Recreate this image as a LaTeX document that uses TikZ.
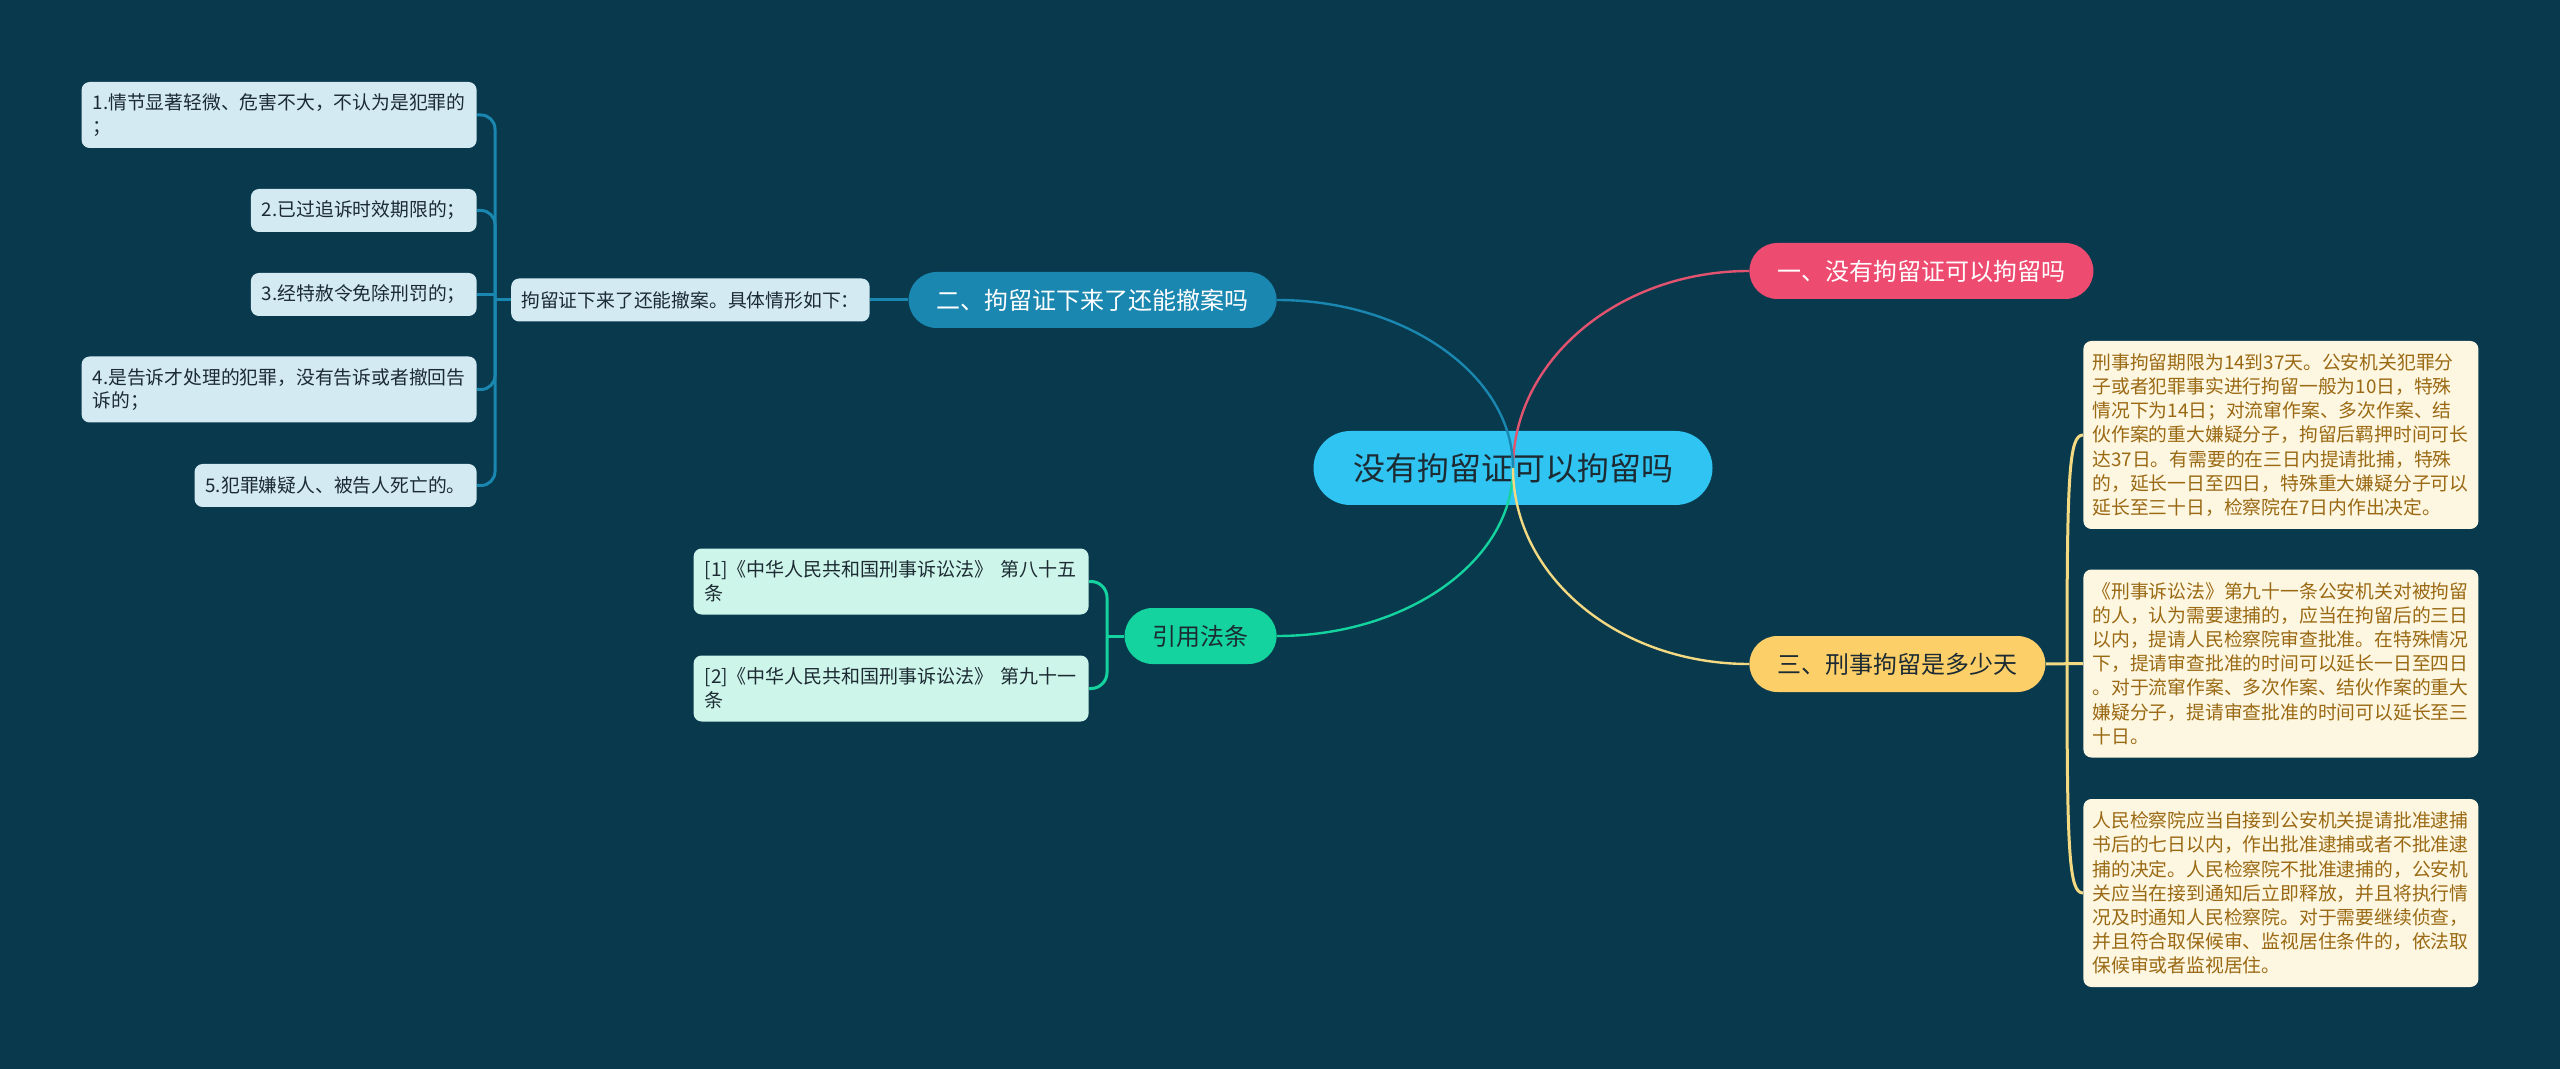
\documentclass[tikz,border=0pt]{standalone}
\usepackage{fontspec}
\setmainfont{Noto Sans CJK SC}
\usepackage{tikz}
\definecolor{bgteal}{HTML}{08394D}
\definecolor{rootcyan}{HTML}{2FC4F2}
\definecolor{rosered}{HTML}{EE4B70}
\definecolor{roseline}{HTML}{E2536F}
\definecolor{seablue}{HTML}{1A87B0}
\definecolor{mintgreen}{HTML}{14D39F}
\definecolor{sunyellow}{HTML}{FDCF69}
\definecolor{lineyellow}{HTML}{F2D982}
\definecolor{paleblue}{HTML}{D3EAF3}
\definecolor{palemint}{HTML}{CEF5EA}
\definecolor{cream}{HTML}{FDF6E0}
\definecolor{ochre}{HTML}{9A6913}
\definecolor{inkdark}{HTML}{1C2B33}

\begin{document}
\begin{tikzpicture}[x=0.5pt,y=-0.5pt,
    topic/.style={rounded corners=14pt,minimum height=28pt,inner xsep=14pt,inner ysep=0pt,
        font=\fontsize{12pt}{14pt}\selectfont},
    leafbox/.style={fill=paleblue,text=inkdark,rounded corners=4pt,inner xsep=5.5pt,inner ysep=0pt,
        minimum height=21.5pt,font=\fontsize{9.4pt}{11.8pt}\selectfont},
    leaftwo/.style={leafbox,minimum height=33pt,text width=186.5pt,align=left},
    citebox/.style={leaftwo,fill=palemint,font=\fontsize{9.5pt}{12pt}\selectfont},
    notebox/.style={fill=cream,text=ochre,rounded corners=4pt,inner xsep=4.5pt,inner ysep=0pt,
        minimum height=94pt,text width=188.5pt,align=left,font=\fontsize{9.4pt}{12.1pt}\selectfont},
    mainline/.style={line width=1.2pt},
    brace/.style={line width=1.5pt,rounded corners=7pt}]

    \useasboundingbox (0,0) rectangle (2560,1069);
    \fill[bgteal] (0,0) rectangle (2560,1069);

    \node[fill=rootcyan,text=inkdark,rounded corners=18.5pt,minimum height=37pt,inner xsep=19.75pt,
        inner ysep=0pt,font=\fontsize{16pt}{18pt}\selectfont] (root) at (1513,468) {没有拘留证可以拘留吗};

    \node[topic,fill=rosered,text=white,anchor=west] (b1) at (1749,271) {一、没有拘留证可以拘留吗};
    \node[topic,fill=seablue,text=white,anchor=east] (b2) at (1277,300) {二、拘留证下来了还能撤案吗};
    \node[topic,fill=mintgreen,text=inkdark,anchor=east] (b3) at (1277,636) {引用法条};
    \node[topic,fill=sunyellow,text=inkdark,anchor=west] (b4) at (1749,664) {三、刑事拘留是多少天};

    \node[leafbox,inner xsep=5pt,anchor=east] (sub) at (870,300) {拘留证下来了还能撤案。具体情形如下：};

    \node[leaftwo,anchor=east] (l1) at (477,115) {1.情节显著轻微、危害不大，不认为是犯罪的\\；};
    \node[leafbox,anchor=east] (l2) at (477,210.5) {2.已过追诉时效期限的；};
    \node[leafbox,anchor=east] (l3) at (477,294.5) {3.经特赦令免除刑罚的；};
    \node[leaftwo,anchor=east] (l4) at (477,389.5) {4.是告诉才处理的犯罪，没有告诉或者撤回告\\诉的；};
    \node[leafbox,anchor=east] (l5) at (477,485.5) {5.犯罪嫌疑人、被告人死亡的。};

    \node[citebox,anchor=east] (c1) at (1089,581.5) {[1]《中华人民共和国刑事诉讼法》 第八十五\\条};
    \node[citebox,anchor=east] (c2) at (1089,688.5) {[2]《中华人民共和国刑事诉讼法》 第九十一\\条};

    \node[notebox,anchor=west] (r1) at (2083,435) {刑事拘留期限为14到37天。公安机关犯罪分\\子或者犯罪事实进行拘留一般为10日，特殊\\情况下为14日；对流窜作案、多次作案、结\\伙作案的重大嫌疑分子，拘留后羁押时间可长\\达37日。有需要的在三日内提请批捕，特殊\\的，延长一日至四日，特殊重大嫌疑分子可以\\延长至三十日，检察院在7日内作出决定。};
    \node[notebox,anchor=west] (r2) at (2083,663.5) {《刑事诉讼法》第九十一条公安机关对被拘留\\的人，认为需要逮捕的，应当在拘留后的三日\\以内，提请人民检察院审查批准。在特殊情况\\下，提请审查批准的时间可以延长一日至四日\\。对于流窜作案、多次作案、结伙作案的重大\\嫌疑分子，提请审查批准的时间可以延长至三\\十日。};
    \node[notebox,anchor=west] (r3) at (2083,893) {人民检察院应当自接到公安机关提请批准逮捕\\书后的七日以内，作出批准逮捕或者不批准逮\\捕的决定。人民检察院不批准逮捕的，公安机\\关应当在接到通知后立即释放，并且将执行情\\况及时通知人民检察院。对于需要继续侦查，\\并且符合取保候审、监视居住条件的，依法取\\保候审或者监视居住。};

    \coordinate (lj) at (495,300);
    \coordinate (gj) at (1107,636);
    \coordinate (yj) at (2067,664);

    \draw[mainline,roseline] (root.center) .. controls +(0,-108) and +(-130,0) .. (b1.west);
    \draw[mainline,seablue] (root.center) .. controls +(0,-92) and +(130,0) .. (b2.east);
    \draw[mainline,mintgreen] (root.center) .. controls +(0,93) and +(130,0) .. (b3.east);
    \draw[mainline,lineyellow] (root.center) .. controls +(0,109) and +(-130,0) .. (b4.west);

    \draw[brace,seablue] (b2.west) -- (sub.east);
    \draw[brace,seablue] (sub.west) -- (lj);
    \draw[brace,seablue] (l1.east) -| (lj) |- (l5.east);
    \draw[brace,seablue] (lj) |- (l2.east);
    \draw[brace,seablue] (lj) |- (l4.east);
    \draw[brace,seablue] (l3.east) -- (l3.east -| lj);

    \draw[brace,mintgreen,rounded corners=8pt] (c1.east) -| (gj) |- (c2.east);
    \draw[brace,mintgreen] (gj) -- (b3.west);

    \draw[brace,lineyellow] (b4.east) -- (r2.west);
    \draw[brace,lineyellow] (yj) .. controls +(0,-190) and +(-14,0) .. (r1.west);
    \draw[brace,lineyellow] (yj) .. controls +(0,190) and +(-14,0) .. (r3.west);
\end{tikzpicture}
\end{document}
